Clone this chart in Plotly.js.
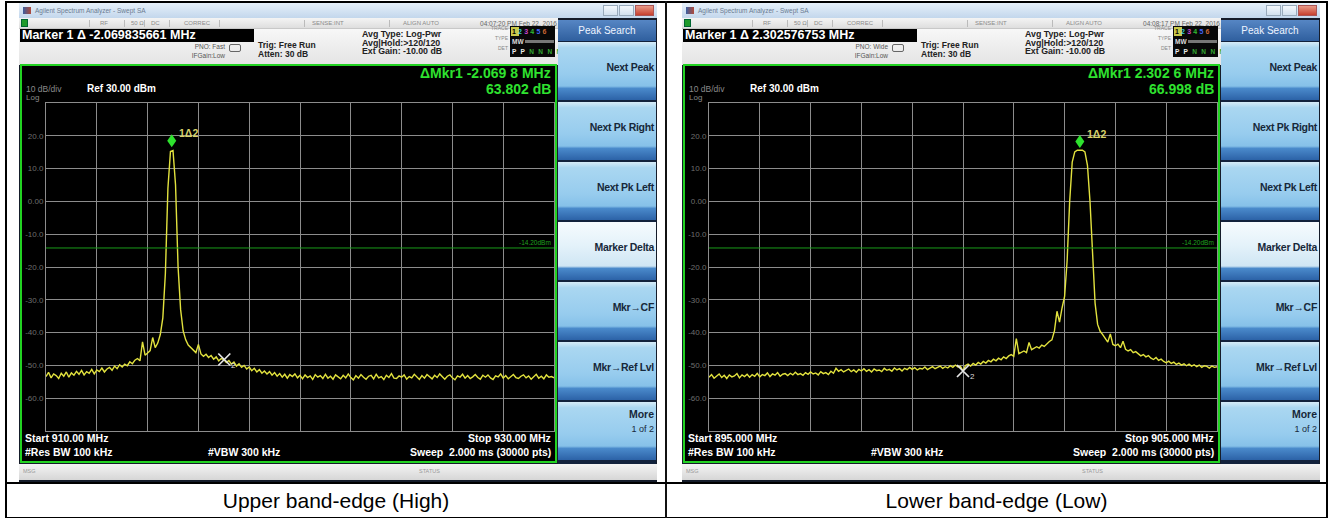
<!DOCTYPE html>
<html><head><meta charset="utf-8">
<script src="https://cdn.plot.ly/plotly-3.0.1.min.js"></script>
<style>
html,body{margin:0;padding:0;background:#fff;}
#page{position:relative;width:1330px;height:518px;overflow:hidden;background:#fff;font-family:"Liberation Sans",Arial,sans-serif;}
#page div{position:absolute;box-sizing:border-box;white-space:nowrap;}
</style></head><body><div id="page"></div>
<script>
// ---------------- DATA ----------------
const captions = ["Upper band-edge (High)", "Lower band-edge (Low)"];
const sweepStart = [910, 895];      // MHz
const sweepStop = [930, 905];       // MHz
const sweepStep = [0.1, 0.05];      // MHz between plotted trace points
const refLevel = 30;                // dBm (top of graticule)
const bottomLevel = -70;            // dBm
const yTickVals = [20, 10, 0, -10, -20, -30, -40, -50, -60];
const yTickText = ["20.0", "10.0", "0.00", "-10.0", "-20.0", "-30.0", "-40.0", "-50.0", "-60.0"];
const levelsHigh = [
-53.4,-52.1,-53.8,-52.6,-53.1,-54.0,-52.4,-53.3,-52.0,-53.6,
-52.3,-53.0,-51.8,-52.7,-51.5,-52.9,-51.9,-52.4,-51.2,-52.6,
-51.4,-51.9,-50.8,-52.0,-51.1,-50.6,-51.5,-50.2,-51.0,-49.8,
-50.5,-49.6,-50.1,-48.9,-49.5,-48.4,-47.9,-48.6,-42.8,-46.9,
-46.2,-45.5,-41.5,-44.6,-43.2,-40.6,-35.5,-22.0,4.0,15.2,
15.5,5.0,-20.0,-33.0,-39.5,-42.2,-43.8,-44.6,-45.5,-46.1,
-43.6,-46.5,-47.2,-46.6,-47.6,-47.0,-48.1,-47.4,-48.6,-47.9,
-48.2,-49.1,-48.5,-49.6,-49.0,-50.2,-49.5,-50.6,-50.0,-51.1,
-50.5,-51.6,-50.9,-52.0,-51.3,-52.4,-51.7,-52.6,-51.9,-53.0,
-52.2,-53.3,-52.5,-53.6,-52.7,-53.9,-52.8,-53.4,-52.6,-53.8,
-53.0,-54.1,-52.9,-53.7,-53.2,-54.3,-52.8,-53.6,-53.1,-54.0,
-52.7,-53.9,-53.3,-54.2,-52.9,-53.5,-54.1,-53.0,-53.8,-52.6,
-53.7,-54.4,-53.1,-53.9,-52.8,-53.6,-54.2,-53.3,-53.0,-54.1,
-52.7,-53.8,-53.4,-54.3,-53.0,-53.7,-52.5,-53.9,-54.0,-53.2,
-53.6,-52.9,-54.2,-53.4,-53.8,-52.7,-53.5,-54.3,-53.1,-53.9,
-52.8,-53.6,-54.1,-53.0,-53.7,-52.6,-53.4,-54.2,-53.3,-52.9,
-53.8,-54.4,-53.2,-53.6,-52.7,-53.9,-53.1,-54.0,-53.5,-52.8,
-53.7,-54.2,-53.0,-53.6,-52.9,-53.8,-54.3,-53.2,-53.5,-52.6,
-53.9,-53.1,-54.1,-53.4,-52.8,-53.7,-54.0,-53.3,-52.9,-53.8,
-53.2,-54.2,-53.5,-52.7,-53.9,-53.3,-54.1,-52.9,-53.6,-53.4,
-53.8];
const levelsLow = [
-53.6,-52.8,-53.9,-53.1,-52.6,-53.7,-53.0,-54.0,-52.9,-53.5,
-53.2,-52.5,-53.8,-52.9,-53.4,-52.7,-53.6,-52.8,-53.3,-52.4,
-53.5,-52.8,-53.1,-52.3,-53.4,-52.6,-53.0,-52.2,-53.3,-52.7,
-52.5,-53.1,-52.4,-52.9,-52.1,-52.8,-52.5,-53.0,-52.2,-52.7,
-52.0,-52.6,-52.3,-52.9,-51.9,-52.5,-52.2,-52.8,-51.8,-52.4,
-50.9,-51.8,-51.3,-52.0,-51.5,-51.1,-51.9,-51.4,-52.1,-51.2,
-51.7,-51.0,-51.8,-51.3,-52.0,-51.1,-51.6,-51.4,-51.9,-50.9,
-51.5,-51.2,-51.8,-50.8,-51.4,-51.0,-51.7,-50.9,-51.3,-50.6,
-51.2,-50.7,-51.4,-50.9,-51.1,-50.5,-51.3,-50.8,-50.4,-51.0,
-50.6,-50.2,-50.9,-50.4,-50.8,-50.1,-50.6,-49.9,-50.5,-50.3,
-51.7,-50.0,-49.6,-50.2,-49.4,-49.9,-49.1,-49.6,-48.8,-49.3,
-48.5,-48.9,-48.1,-48.6,-47.8,-48.3,-47.4,-47.9,-47.1,-46.7,
-47.2,-41.8,-46.4,-46.0,-45.6,-46.1,-43.0,-45.2,-44.8,-44.3,
-44.7,-43.8,-44.2,-43.4,-42.7,-42.2,-39.5,-33.5,-36.8,-32.5,
-29.0,-18.0,0.0,12.0,15.1,15.6,15.7,15.6,15.1,11.0,
0.0,-18.0,-31.0,-37.5,-39.6,-40.6,-41.8,-42.9,-40.4,-43.6,
-44.0,-43.5,-44.6,-42.6,-45.1,-45.6,-45.2,-46.1,-45.8,-46.5,
-47.1,-46.7,-47.4,-47.0,-47.8,-48.2,-47.6,-48.5,-48.1,-48.8,
-49.2,-48.7,-49.4,-49.0,-49.7,-49.3,-49.9,-49.5,-50.1,-49.6,
-50.2,-49.8,-50.4,-49.9,-50.6,-50.1,-50.3,-50.8,-50.2,-50.6,
-50.4];
const marker1Freq = [914.95, 902.30];
const marker1Level = [15.6, 15.4];
const marker2Freq = [917.02, 900.00];
const marker2Level = [-48.2, -51.7];
const displayLineLevel = [-14.2, -14.2];
const displayLineText = ["-14.20dBm", "-14.20dBm"];
const markerReadout = ["Marker 1 \u0394 -2.069835661 MHz", "Marker 1 \u0394 2.302576753 MHz"];
const deltaFreqText = ["\u0394Mkr1 -2.069 8 MHz", "\u0394Mkr1 2.302 6 MHz"];
const deltaLevelText = ["63.802 dB", "66.998 dB"];
const startText = ["Start 910.00 MHz", "Start 895.000 MHz"];
const stopText = ["Stop 930.00 MHz", "Stop 905.000 MHz"];
const pnoText = ["PNO: Fast", "PNO: Wide"];
const clockText = ["04:07:20 PM Feb 22, 2016", "04:08:17 PM Feb 22, 2016"];
const menuKeys = ["Next Peak", "Next Pk Right", "Next Pk Left", "Marker Delta", "Mkr\u2192CF", "Mkr\u2192Ref Lvl", "More"];

// ---------------- BUILD ----------------
const page = document.getElementById('page');
function el(parent, css, text, html) {
  const d = document.createElement('div');
  d.style.cssText = css;
  if (html !== undefined) d.innerHTML = html;
  else if (text !== undefined) d.textContent = text;
  parent.appendChild(d);
  return d;
}

// table
el(page, 'left:5px;top:1px;width:1323px;height:518px;border:2px solid #000;');
el(page, 'left:665px;top:1px;width:2px;height:517px;background:#111;');
el(page, 'left:5px;top:482px;width:1323px;height:2px;background:#000;');
el(page, 'left:7px;top:484px;width:658px;height:33px;line-height:33px;text-align:center;font-size:21px;color:#000;', captions[0]);
el(page, 'left:667px;top:484px;width:659px;height:33px;line-height:33px;text-align:center;font-size:21px;color:#000;', captions[1]);

function buildPanel(p, ox) {
  const s = el(page, `left:${ox}px;top:3px;width:638px;height:479px;background:#151c2a;overflow:hidden;`);
  // title bar
  el(s, 'left:0;top:0;width:638px;height:15px;background:linear-gradient(#e6f0fa,#c3d7ec);');
  el(s, 'left:4px;top:4px;width:8px;height:7px;background:linear-gradient(90deg,#3a5fa0,#b04a3a);');
  el(s, 'left:16px;top:2px;height:11px;line-height:11px;font-size:6.5px;color:#6a7a90;', 'Agilent Spectrum Analyzer - Swept SA');
  el(s, 'left:584px;top:2px;width:15px;height:11px;border:1px solid #9ab;background:linear-gradient(#f4f8fc,#d2e0ee);');
  el(s, 'left:600px;top:2px;width:15px;height:11px;border:1px solid #9ab;background:linear-gradient(#f4f8fc,#d2e0ee);');
  el(s, 'left:616px;top:2px;width:19px;height:11px;border:1px solid #a55;background:linear-gradient(#e89a88,#c8402e);');
  // toolbar row
  el(s, 'left:0;top:15px;width:539px;height:11px;background:linear-gradient(#f4f4f4,#dedede);border-bottom:1px solid #c8c8c8;');
  el(s, 'left:2px;top:16px;width:7px;height:8px;background:#1f9a2a;border:1px solid #063;');
  const tb = [[81, 'RF'], [112, '50 \u03a9'], [132, 'DC'], [165, 'CORREC'], [293, 'SENSE:INT'], [384, 'ALIGN AUTO']];
  tb.forEach(t => el(s, `left:${t[0]}px;top:16px;height:9px;line-height:9px;font-size:6px;color:#8a8a8a;`, t[1]));
  [70, 105, 125, 150, 200, 285, 370].forEach(x => el(s, `left:${x}px;top:17px;width:1px;height:7px;background:#bbb;`));
  el(s, 'left:430px;top:16px;width:108px;height:9px;line-height:9px;font-size:6.5px;color:#666;text-align:right;', clockText[p]);
  // info area
  el(s, 'left:0;top:26px;width:539px;height:36px;background:linear-gradient(#f7f7f7,#e4e4e4);');
  el(s, 'left:1px;top:26px;width:234px;height:13px;background:#000;color:#fff;font-weight:bold;font-size:12.5px;line-height:13px;padding-left:2px;', markerReadout[p]);
  el(s, 'left:140px;top:40px;width:66px;height:8px;line-height:8px;font-size:6.5px;color:#555;text-align:right;', pnoText[p]);
  el(s, 'left:140px;top:49px;width:66px;height:8px;line-height:8px;font-size:6.5px;color:#555;text-align:right;', 'IFGain:Low');
  el(s, 'left:210px;top:41px;width:12px;height:8px;border:1px solid #666;border-radius:2px;');
  el(s, 'left:239px;top:37px;height:10px;line-height:10px;font-size:8.5px;font-weight:bold;color:#222;', 'Trig: Free Run');
  el(s, 'left:239px;top:46px;height:10px;line-height:10px;font-size:8.5px;font-weight:bold;color:#222;', 'Atten: 30 dB');
  el(s, 'left:343px;top:26px;height:10px;line-height:10px;font-size:8.8px;font-weight:bold;color:#222;', 'Avg Type: Log-Pwr');
  el(s, 'left:343px;top:34.5px;height:10px;line-height:10px;font-size:8.8px;font-weight:bold;color:#222;', 'Avg|Hold:>120/120');
  el(s, 'left:343px;top:43px;height:10px;line-height:10px;font-size:8.8px;font-weight:bold;color:#222;', 'Ext Gain: -10.00 dB');
  el(s, 'left:460px;top:22px;width:29px;height:7px;line-height:7px;font-size:5px;color:#888;text-align:right;', 'TRACE');
  el(s, 'left:460px;top:32px;width:29px;height:7px;line-height:7px;font-size:5px;color:#888;text-align:right;', 'TYPE');
  el(s, 'left:460px;top:42px;width:29px;height:7px;line-height:7px;font-size:5px;color:#888;text-align:right;', 'DET');
  el(s, 'left:491px;top:23px;width:45px;height:31px;background:#080808;');
  el(s, 'left:492px;top:24px;width:8px;height:9px;background:#c9c94a;');
  el(s, 'left:493px;top:24px;height:9px;line-height:9px;font-size:7px;font-weight:bold;letter-spacing:2.2px;', '',
     '<span style="color:#000">1</span><span style="color:#3cc">2</span><span style="color:#c4c">3</span><span style="color:#3b3">4</span><span style="color:#46f">5</span><span style="color:#c63">6</span>');
  el(s, 'left:493px;top:34px;height:9px;line-height:9px;font-size:6.5px;font-weight:bold;color:#ddd;', 'MW', undefined);
  el(s, 'left:506px;top:37px;width:29px;height:3px;background:#777;');
  el(s, 'left:493px;top:44px;height:9px;line-height:9px;font-size:6.5px;font-weight:bold;letter-spacing:1.3px;', '',
     '<span style="color:#eee">P P</span><span style="color:#3a3"> N N N N</span>');
  // display with green frame
  const disp = el(s, 'left:1px;top:61px;width:537px;height:399px;border:2px solid #22d322;background:#000;');
  const plotDiv = el(disp, 'left:0;top:0;width:533px;height:395px;');
  // status bar
  el(s, 'left:0;top:461px;width:638px;height:16px;background:linear-gradient(#f4f4f4,#d6d6d6);');
  el(s, 'left:4px;top:464px;height:8px;line-height:8px;font-size:5.5px;color:#999;', 'MSG');
  el(s, 'left:400px;top:464px;height:8px;line-height:8px;font-size:5.5px;color:#999;', 'STATUS');
  // softkey menu
  const menu = el(s, 'left:539px;top:17px;width:98px;height:444px;background:#12223c;');
  el(menu, 'left:0;top:0;width:98px;height:21px;background:linear-gradient(#5686c4,#2f5f9e);color:#eef4ff;font-size:10px;line-height:21px;text-align:center;', 'Peak Search');
  menuKeys.forEach((k, i) => {
    const sel = (k === 'Marker Delta');
    const bg = sel
      ? 'linear-gradient(#f6fbfe 0%,#e4f2fa 40%,#cfe6f4 76%,#4a8acb 80%,#2c62a7 100%)'
      : 'linear-gradient(#d6ecf8 0%,#aad7f1 10%,#97ccee 55%,#86c1e9 76%,#4a8acb 80%,#2c62a7 100%)';
    const b = el(menu, `left:0;top:${22 + 60 * i}px;width:98px;height:58px;background:${bg};`);
    if (k === 'More') {
      el(b, 'right:2px;top:6px;height:13px;line-height:13px;font-size:10.5px;font-weight:bold;color:#17283a;text-align:right;', 'More');
      el(b, 'right:2px;top:21px;height:13px;line-height:13px;font-size:9px;color:#17283a;text-align:right;', '1 of 2');
    } else {
      el(b, 'right:2px;top:18px;height:14px;line-height:14px;font-size:10.5px;font-weight:bold;letter-spacing:-0.3px;color:#17283a;text-align:right;', k);
    }
  });
  return plotDiv;
}

function drawPlot(div, p) {
  const levels = p === 0 ? levelsHigh : levelsLow;
  const traces = [
    { type: 'scatter', mode: 'lines', x0: sweepStart[p], dx: sweepStep[p], y: levels,
      line: { color: '#e2e23e', width: 1.4 }, hoverinfo: 'skip' },
    { type: 'scatter', mode: 'markers', x: [marker2Freq[p]], y: [marker2Level[p]],
      marker: { symbol: 'x-thin', size: 12, color: '#e6e6e6', line: { color: '#e6e6e6', width: 1.7 } }, hoverinfo: 'skip' }
  ];
  const txt = (x, y, text, xa, size, color, bold) => ({
    xref: 'paper', yref: 'paper', x: x, y: y, text: bold ? '<b>' + text + '</b>' : text,
    xanchor: xa, yanchor: 'middle', showarrow: false,
    font: { family: 'Liberation Sans, Arial, sans-serif', size: size, color: color }
  });
  const layout = {
    width: 533, height: 395,
    margin: { l: 24, r: 1, t: 37, b: 30, pad: 0 },
    paper_bgcolor: '#000', plot_bgcolor: '#000', showlegend: false,
    font: { family: 'Liberation Sans, Arial, sans-serif' },
    xaxis: { range: [sweepStart[p], sweepStop[p]], tick0: sweepStart[p], dtick: (sweepStop[p] - sweepStart[p]) / 10,
      showgrid: true, gridcolor: '#8c8c8c', gridwidth: 1, showticklabels: false, ticks: '',
      zeroline: false, showline: true, linecolor: '#8c8c8c', linewidth: 1, mirror: true, fixedrange: true },
    yaxis: { range: [bottomLevel, refLevel], tickvals: yTickVals, ticktext: yTickText,
      showgrid: true, gridcolor: '#8c8c8c', gridwidth: 1, ticks: '', zeroline: false,
      showline: true, linecolor: '#8c8c8c', linewidth: 1, mirror: true, fixedrange: true,
      tickfont: { size: 8, color: '#6e6e6e' } },
    shapes: [
      { type: 'line', xref: 'paper', x0: 0, x1: 1, yref: 'y', y0: displayLineLevel[p], y1: displayLineLevel[p],
        line: { color: '#1a9c1a', width: 1 } },
      { type: 'path', xref: 'x', yref: 'y', xsizemode: 'pixel', ysizemode: 'pixel',
        xanchor: marker1Freq[p], yanchor: marker1Level[p],
        path: 'M0,3 L4.5,9.5 L0,16 L-4.5,9.5 Z', fillcolor: '#2ee22e', line: { width: 0 } }
    ],
    annotations: [
      txt(-0.043, 1.043, '10 dB/div', 'left', 8.5, '#8a8a8a', false),
      txt(-0.043, 1.018, 'Log', 'left', 8, '#8a8a8a', false),
      txt(0.077, 1.043, 'Ref 30.00 dBm', 'left', 10, '#ffffff', true),
      txt(0.999, 1.091, deltaFreqText[p], 'right', 14, '#2fe22f', true),
      txt(0.999, 1.044, deltaLevelText[p], 'right', 14, '#2fe22f', true),
      txt(-0.045, -0.02, startText[p], 'left', 10.5, '#ffffff', true),
      txt(-0.045, -0.065, '#Res BW 100 kHz', 'left', 10.5, '#ffffff', true),
      txt(0.315, -0.065, '#VBW 300 kHz', 'left', 10.5, '#ffffff', true),
      txt(0.999, -0.02, stopText[p], 'right', 10.5, '#ffffff', true),
      txt(0.999, -0.065, 'Sweep&nbsp;&nbsp;2.000 ms (30000 pts)', 'right', 10.5, '#ffffff', true),
      { xref: 'paper', yref: 'y', x: 0.998, y: displayLineLevel[p], text: displayLineText[p], xanchor: 'right', yanchor: 'bottom',
        showarrow: false, font: { size: 6.5, color: '#1fa01f' } },
      { xref: 'x', yref: 'y', x: marker1Freq[p], y: marker1Level[p], text: '<b>1\u03942</b>', xanchor: 'left', yanchor: 'middle',
        xshift: 5, yshift: 17, showarrow: false, font: { size: 10.5, color: '#d8d26a' } },
      { xref: 'x', yref: 'y', x: marker2Freq[p], y: marker2Level[p], text: '2', xanchor: 'left', yanchor: 'middle',
        xshift: 5, yshift: -6, showarrow: false, font: { size: 8, color: '#dddddd' } }
    ]
  };
  Plotly.newPlot(div, traces, layout, { staticPlot: true, displayModeBar: false });
}

const d0 = buildPanel(0, 19);
const d1 = buildPanel(1, 682);
drawPlot(d0, 0);
drawPlot(d1, 1);
</script></body></html>
